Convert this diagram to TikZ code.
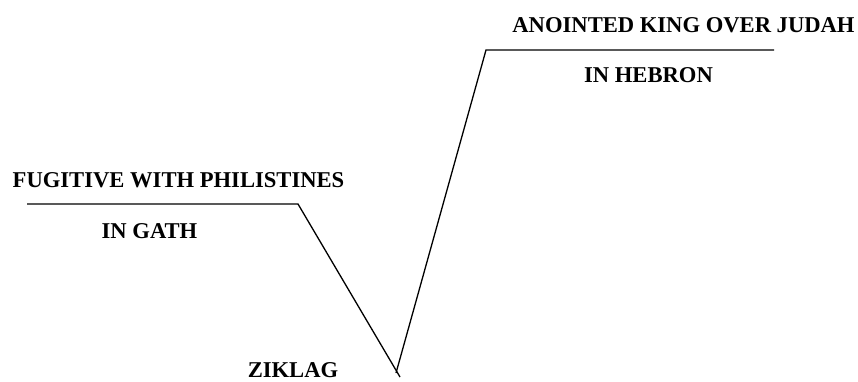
\documentclass[tikz,border=0pt]{standalone}
\usepackage{fontspec}
\setmainfont{Liberation Serif}
\begin{document}
\begin{tikzpicture}[x=1pt,y=-1pt,
  lbl/.style={font=\fontsize{22.6}{26}\selectfont\bfseries, anchor=base, inner sep=0pt},
  path line/.style={line width=1.3pt, black}]
\useasboundingbox (0,0) rectangle (858,381);
\coordinate (g1) at (27,204);
\coordinate (g2) at (298,204);
\coordinate (z1) at (400,377);
\coordinate (z2) at (396,373);
\coordinate (h1) at (486,50);
\coordinate (h2) at (774,50);
\draw[path line] (g1) -- (g2) -- (z1);
\draw[path line] (z2) -- (h1) -- (h2);
\node[lbl] (anointed) at (683.5,32) {ANOINTED KING OVER JUDAH};
\node[lbl] (hebron) at (648.5,82) {IN HEBRON};
\node[lbl] (fugitive) at (178.5,187) {FUGITIVE WITH PHILISTINES};
\node[lbl] (gath) at (149.5,238) {IN GATH};
\node[lbl] (ziklag) at (293,377) {ZIKLAG};
\end{tikzpicture}
\end{document}
